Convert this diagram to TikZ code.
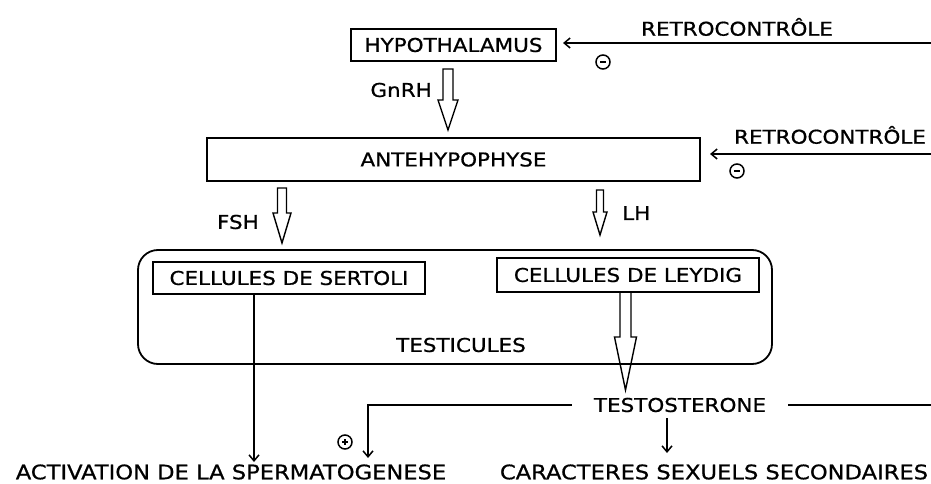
\documentclass[tikz,border=0pt]{standalone}
\usepackage{fontspec}
\setmainfont{DejaVu Sans}[FakeStretch=1.13,FakeBold=0.8]
\usetikzlibrary{arrows.meta,calc}
\newcommand{\hollowarrow}[5]{% x, top y, head start y, tip y, half shaft
  \draw[hollow] (#1-#5,#2) -- (#1-#5,#3) -- (#1-2*#5,#3) -- (#1,#4) -- (#1+2*#5,#3) -- (#1+#5,#3) -- (#1+#5,#2) -- cycle;}
\begin{document}
\begin{tikzpicture}[x=1pt,y=-1pt,
  box/.style={draw,line width=1.8pt,inner sep=0pt,font=\fontsize{19}{22}\selectfont},
  lbl/.style={inner sep=0pt,font=\fontsize{19}{22}\selectfont},
  big/.style={inner sep=0pt,font=\fontsize{20}{24}\selectfont},
  conn/.style={line width=1.5pt,-{Straight Barb[length=6pt,width=10pt]}},
  plain/.style={line width=1.5pt},
  hollow/.style={line width=1.4pt,line join=miter},
  sign/.style={circle,draw,line width=1.5pt,inner sep=0pt,minimum size=14pt},
  signbar/.style={line width=1.5pt}]
\useasboundingbox (0,0) rectangle (931,484);
% boxes
\node[box,minimum width=205pt,minimum height=32pt] (hyp) at (453.5,45) {HYPOTHALAMUS};
\node[box,minimum width=493pt,minimum height=43pt] (ante) at (453.5,159.5) {ANTEHYPOPHYSE};
\node[draw,line width=1.8pt,rounded corners=20pt,minimum width=634pt,minimum height=114pt] (testi) at (455,307) {};
\node[box,minimum width=272pt,minimum height=32pt] (sert) at (289,278) {CELLULES DE SERTOLI};
\node[box,minimum width=262pt,minimum height=34pt] (leyd) at (628,275) {CELLULES DE LEYDIG};
\node[lbl] (testlbl) at (461,345) {TESTICULES};
% labels
\node[lbl] (retro1) at (737,27) {RETROCONTRÔLE};
\node[lbl] (retro2) at (830,135) {RETROCONTRÔLE};
\coordinate (r1) at (931,43);
\coordinate (r2) at (931,154);
\node[sign] (m1) at (603,62) {};
\node[sign] (m2) at (737,171) {};
\draw[signbar] ($(m1.center)+(-3,0)$) -- ($(m1.center)+(3,0)$);
\draw[signbar] ($(m2.center)+(-3,0)$) -- ($(m2.center)+(3,0)$);
\node[lbl,anchor=east] (gnrh) at (432,90) {GnRH};
\node[lbl,anchor=east] (fsh) at (259,222) {FSH};
\node[lbl,anchor=west] (lh) at (622,213) {LH};
\node[lbl,outer xsep=22pt] (testo) at (680,405) {TESTOSTERONE};
\node[big] (activ) at (231,472) {ACTIVATION DE LA SPERMATOGENESE};
\node[big] (carac) at (714,472) {CARACTERES SEXUELS SECONDAIRES};
\node[sign] (p1) at (345,442) {};
\draw[signbar] ($(p1.center)+(-3,0)$) -- ($(p1.center)+(3,0)$);
\draw[signbar] ($(p1.center)+(0,-3)$) -- ($(p1.center)+(0,3)$);
\coordinate (tr) at (931,405);
\coordinate (corner) at (368,405);
% feedback arrows
\draw[conn] (r1) -- (563,43);
\draw[conn] (r2) -- (710,154);
% hollow block arrows
\hollowarrow{448}{69}{100}{130}{5}
\hollowarrow{282}{188}{213}{243}{4.5}
\hollowarrow{600}{190}{212}{235}{3.5}
\hollowarrow{625.5}{292}{337}{390}{5.5}
% sertoli to activation
\draw[conn] (sert.south -| 254,0) -- (254,462);
% testosterone connections
\draw[conn] (testo.west) -- (corner) -- (368,458);
\draw[plain] (testo.east) -- (tr);
\draw[conn] (667,418) -- (667,453);
\end{tikzpicture}
\end{document}
